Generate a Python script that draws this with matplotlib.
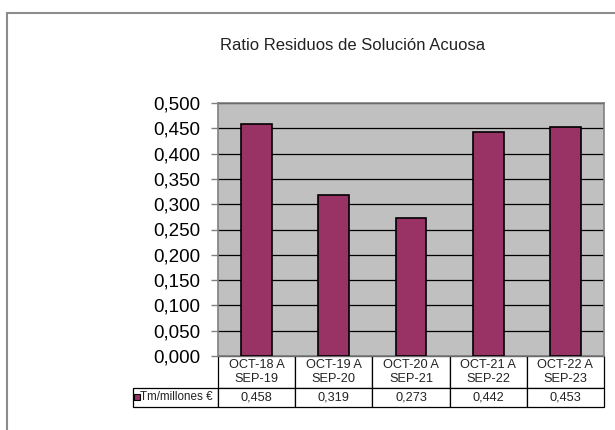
import matplotlib.pyplot as plt
from matplotlib.patches import Rectangle
from matplotlib.table import Table

plt.rcParams['font.family'] = ['Liberation Sans', 'DejaVu Sans']

# data
categories = ["OCT-18 A\nSEP-19", "OCT-19 A\nSEP-20", "OCT-20 A\nSEP-21",
              "OCT-21 A\nSEP-22", "OCT-22 A\nSEP-23"]
values = [0.458, 0.319, 0.273, 0.442, 0.453]
series_name = "Tm/millones €"
yticks = [0.0, 0.05, 0.1, 0.15, 0.2, 0.25, 0.3, 0.35, 0.4, 0.45, 0.5]

bar_color = "#993366"
W, H = 615, 430

fig = plt.figure(figsize=(W / 100, H / 100), dpi=100)
fig.patch.set_facecolor("white")

# outer chart border (only left/top visible in the reference)
fig.patches.append(Rectangle((6.5 / W, -0.2), 1.5, 1.2 - 12.5 / H,
                             transform=fig.transFigure, fill=False,
                             edgecolor="#8c8c8c", linewidth=1.5))

# plot area
ax_l, ax_r, ax_t, ax_b = 218, 604, 103, 356
pw, ph = ax_r - ax_l, ax_b - ax_t
ax = fig.add_axes([ax_l / W, 1 - ax_b / H, pw / W, ph / H])
ax.set_facecolor("#c0c0c0")

x = range(len(values))
ax.bar(x, values, width=0.4, color=bar_color, edgecolor="black", linewidth=1.2, zorder=3)

ax.set_xlim(-0.5, len(values) - 0.5)
ax.set_ylim(0, 0.5)
ax.set_yticks(yticks)
ax.set_yticklabels([f"{v:.3f}".replace(".", ",") for v in yticks], fontsize=13.5)
ax.yaxis.grid(True, color="black", linewidth=0.9, zorder=1)
ax.set_axisbelow(True)
ax.tick_params(axis="y", direction="out", length=5, width=1, color="#808080", pad=7.5)
ax.set_xticks([])
for s in ax.spines.values():
    s.set_color("#808080")
    s.set_linewidth(1.2)

# data table below the plot (built cell by cell)
lab_w = (ax_l - 133) / pw
col_w = 1 / len(values)
hdr_h = 32 / ph
row_h = 19 / ph
tbl = Table(ax, bbox=[-lab_w, -(hdr_h + row_h), 1 + lab_w, hdr_h + row_h])
tbl.auto_set_font_size(False)
corner = tbl.add_cell(0, 0, lab_w, hdr_h, text="")
corner.visible_edges = "open"
lab = tbl.add_cell(1, 0, lab_w, row_h, text=series_name, loc="left")
lab.PAD = 7.5 / (ax_l - 133)
for i, (cat, v) in enumerate(zip(categories, values)):
    tbl.add_cell(0, i + 1, col_w, hdr_h, text=cat, loc="center")
    tbl.add_cell(1, i + 1, col_w, row_h, text=f"{v:.3f}".replace(".", ","), loc="center")
for cell in tbl.get_celld().values():
    cell.set_edgecolor("black")
    cell.set_linewidth(0.9)
    cell.get_text().set_color("#222222")
    cell.get_text().set_fontsize(9.2)
lab.get_text().set_fontsize(8.4)
ax.add_table(tbl)

# legend key in the row label cell
fig.patches.append(Rectangle((134 / W, 1 - 399.5 / H), 5.5 / W, 5.5 / H,
                             transform=fig.transFigure, facecolor=bar_color,
                             edgecolor="black", linewidth=0.8, zorder=10))

fig.text(353 / W, 1 - 46 / H, "Ratio Residuos de Solución Acuosa",
         ha="center", va="center", fontsize=12, color="#222222")

fig.savefig("out.png", dpi=100)
